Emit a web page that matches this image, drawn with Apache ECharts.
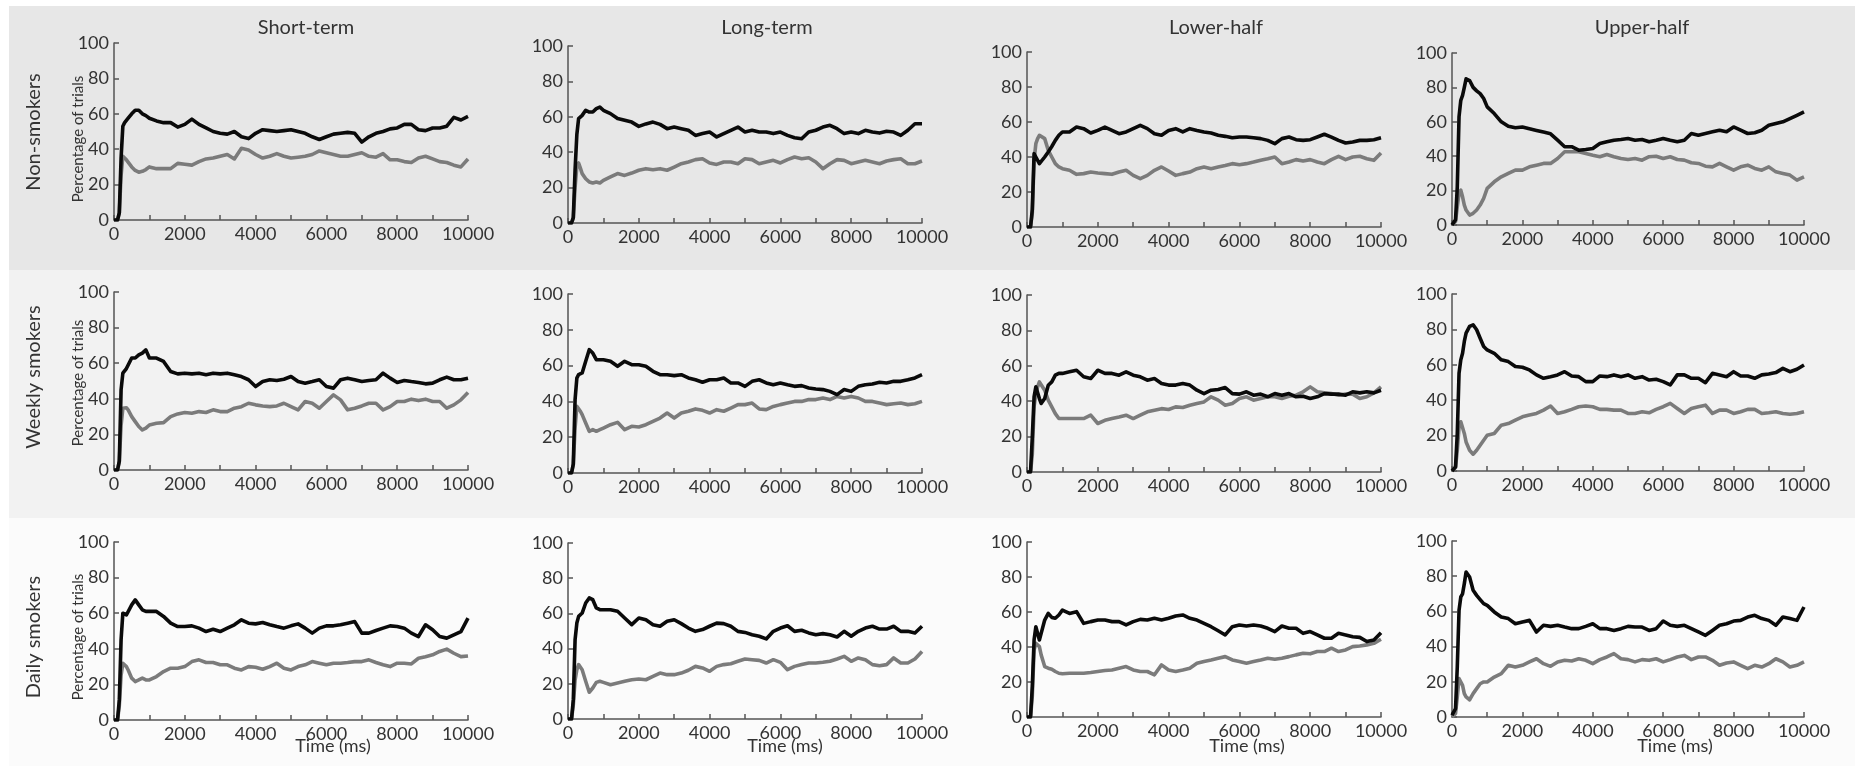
<!DOCTYPE html>
<html>
<head>
<meta charset="utf-8">
<script src="https://cdn.jsdelivr.net/npm/echarts@6/dist/echarts.min.js"></script>
<style>
  html, body { margin: 0; padding: 0; background: #fff; }
  #chart { width: 1863px; height: 766px; }
</style>
</head>
<body>
<div id="chart"></div>
<script>
// Time course of the percentage of trials, 3 smoker groups x 4 conditions.
// Dark line and grey line per panel.

const TIME_MS = [0, 100, 150, 200, 250, 300, 350, 400, 500, 600, 700, 800, 900, 1000,
  1200, 1400, 1600, 1800, 2000, 2200, 2400, 2600, 2800, 3000,
  3200, 3400, 3600, 3800, 4000, 4200, 4400, 4600, 4800, 5000,
  5200, 5400, 5600, 5800, 6000, 6200, 6400, 6600, 6800, 7000,
  7200, 7400, 7600, 7800, 8000, 8200, 8400, 8600, 8800, 9000,
  9200, 9400, 9600, 9800, 10000];

const COLUMNS = ['Short-term', 'Long-term', 'Lower-half', 'Upper-half'];
const ROWS = ['Non-smokers', 'Weekly smokers', 'Daily smokers'];
const X_TICKS = [0, 2000, 4000, 6000, 8000, 10000];

// ---- Non-smokers ----
const nonShortDark = [0, 0, 4, 35, 53, 55, 56, 57.5, 60, 62, 62, 60, 59, 57.5,
  56, 55, 55, 52.5, 54, 57, 54, 52, 50, 49,
  48.5, 50, 47, 46, 49, 51, 50.5, 50, 50.5, 51,
  50, 49, 47, 45.5, 47, 48.5, 49, 49.5, 49, 44,
  47, 49, 50, 51.5, 52, 54, 54, 51, 50.5, 52,
  52, 53, 58, 56.5, 58.5];
const nonShortGrey = [0, 0, 4, 25, 36, 35, 34, 33, 30, 28, 27, 27.5, 28.5, 30,
  29, 29, 29, 32, 31.5, 31, 33, 34.5, 35, 36,
  37, 34.5, 40.5, 39.5, 37, 35, 36, 37.5, 36, 35,
  35.5, 36, 37, 39, 38, 37, 36, 36, 37, 38,
  36, 35.5, 37.5, 34, 34, 33, 32.5, 35, 36, 34.5,
  33, 32.5, 31, 30, 34.5];

const nonLongDark = [0, 0, 3, 30, 50, 59, 60, 60.8, 63.7, 62.7, 62.7, 64.6, 65.5, 63.7,
  61.8, 59, 58, 57, 54.6, 56, 57, 55.7, 53.3, 54.2,
  53.3, 52.4, 49.5, 50.5, 51.4, 48.6, 50.5, 52.4, 54.2, 51.4,
  52.4, 51.4, 51.4, 50.5, 51.4, 49.5, 48.2, 47.6, 51.4, 52.4,
  54.2, 55.2, 53.3, 50.5, 51.4, 50.5, 52.4, 51.4, 50.8, 51.8,
  51.4, 49.5, 52.4, 56.1, 56.1];
const nonLongGrey = [0, 0, 3, 20, 32, 33.9, 31, 27.9, 25, 23.2, 22.6, 23.2, 22.6, 24.1,
  26, 27.9, 26.9, 28.2, 29.8, 30.7, 30.1, 30.7, 29.8, 31.6,
  33.5, 34.5, 35.8, 36.3, 33.9, 33.1, 34.5, 34.5, 33.5, 36.3,
  35.8, 33.5, 34.5, 35.4, 33.9, 35.8, 37.3, 36.3, 36.9, 34.5,
  30.7, 33.5, 35.8, 35.4, 33.5, 34.5, 35.4, 34.5, 33.5, 35,
  35.8, 36.3, 33.5, 33.5, 35];

const nonLowerDark = [0, 0, 10, 41.9, 40, 39, 36.2, 37, 40, 42.9, 46, 49.5, 52.4, 54.3,
  54.3, 57.1, 56.2, 53.7, 55.2, 57.1, 55.2, 53.3, 54.3, 56.2,
  58.1, 56.2, 53.3, 52.4, 55.2, 56.2, 54.3, 56.2, 55.2, 54.3,
  53.7, 52.4, 51.8, 51, 51.4, 51.4, 51, 50.5, 49.5, 47.6,
  50.5, 51.4, 49.9, 49.5, 49.9, 51.4, 53, 51.4, 49.5, 48,
  48.6, 49.5, 49.5, 49.9, 51];
const nonLowerGrey = [0, 0, 8, 38, 47.6, 50.5, 52.4, 53.3, 50.5, 43.8, 40, 36.2, 34.3, 33.3,
  32.4, 30.1, 30.5, 31.4, 30.9, 30.5, 30.1, 31.4, 32.4, 29.5,
  27.6, 29.5, 32.4, 34.3, 32, 29.5, 30.5, 31.4, 33.3, 34.3,
  33.3, 34.3, 35.2, 36.2, 35.6, 36.2, 37.1, 38.1, 39, 40,
  36.2, 37.1, 38.5, 37.7, 38.5, 37.1, 36.2, 38.5, 40.4, 38.5,
  40, 40.4, 39, 38.1, 42.3];

const nonUpperDark = [0, 3, 22, 63, 72.5, 75.4, 80, 85, 84, 80, 78, 76.4, 73.5, 68.7,
  64.8, 60, 57.4, 56.5, 57, 56, 55, 54, 53, 49.3,
  45.5, 45.5, 43.5, 43.9, 44.5, 47.4, 48.4, 49.3, 49.7, 50.3,
  49.3, 49.7, 48.4, 49.3, 50.3, 49.3, 48.4, 49.3, 53.2, 52.2,
  53.2, 54.2, 55.1, 54.2, 57, 55.1, 53.2, 53.6, 55.1, 58,
  59, 60, 61.9, 63.8, 65.8];
const nonUpperGrey = [0, 2, 10.6, 18.4, 20.3, 16.4, 11.6, 8.7, 5.8, 6.8, 8.7, 11.6, 15.5, 21.3,
  25.1, 28, 30, 31.9, 31.9, 33.8, 34.8, 35.8, 35.8, 38.7,
  42.6, 42.6, 42.6, 41.6, 40.6, 39.7, 41, 39.7, 38.7, 38.1,
  38.7, 37.7, 39.7, 40, 38.7, 39.7, 38.1, 37.7, 36.2, 35.8,
  34.2, 33.8, 35.8, 33.8, 31.9, 33.8, 34.8, 32.9, 31.9, 33.8,
  30.9, 30, 29, 26.1, 28];

// ---- Weekly smokers ----
const weeklyShortDark = [0, 0, 5, 45, 54.4, 55.3, 57, 59, 62.9, 62.9, 64.7, 65.7, 67.5, 62.9,
  62.9, 61, 55.3, 54, 54.4, 54, 54.4, 53.5, 54.4, 54,
  54.4, 53.5, 52.5, 50.7, 46.9, 49.7, 50.7, 50.3, 51, 52.5,
  49.7, 48.8, 49.7, 50.7, 46.9, 46, 50.7, 51.6, 50.7, 49.7,
  50.3, 50.7, 54.4, 51.6, 49.2, 50.3, 49.7, 49.2, 48.4, 48.8,
  50.7, 52.2, 50.7, 50.7, 51.6];
const weeklyShortGrey = [0, 0, 5, 25, 34.7, 35.6, 35, 33.8, 30, 27.2, 24.4, 22.5, 23.5, 25.3,
  26.3, 26.6, 30, 31.5, 32.3, 31.9, 32.8, 32.3, 33.8, 32.8,
  32.8, 34.7, 35.6, 37.5, 36.6, 36, 35.6, 36, 37.5, 35.6,
  33.8, 38.5, 37.5, 34.7, 38.5, 42.2, 39.4, 33.8, 34.7, 36,
  37.5, 37.5, 33.8, 35.6, 38.5, 38.5, 39.8, 39, 39.8, 38.5,
  38.5, 34.7, 36.6, 39.4, 43.5];

const weeklyLongDark = [0, 0, 5, 41, 53, 55, 55.5, 55.9, 62.4, 68.9, 67, 63.3, 63.3, 63.3,
  62.4, 59.6, 62.4, 60.5, 60.5, 59.6, 56.8, 54.9, 54.9, 54.4,
  54.9, 53.1, 52.1, 50.7, 52.1, 52.1, 53.1, 50.3, 50.3, 48.4,
  51.2, 52.1, 50.3, 49.3, 50.3, 49.3, 48.4, 48.8, 47.5, 46.9,
  46.6, 45.6, 43.8, 46.6, 45.6, 48.4, 49.3, 49.7, 50.7, 50.3,
  51.2, 51.2, 52.1, 53.1, 54.9];
const weeklyLongGrey = [0, 0, 5, 25, 37.2, 36.3, 34.5, 32.6, 27.9, 23.3, 24.2, 23.3, 24.2, 25.1,
  27, 28.3, 24.2, 26.1, 25.7, 27, 28.9, 30.7, 33.5, 30.7,
  33.5, 34.5, 35.8, 35, 33.5, 35.4, 34.5, 36.3, 38.2, 38.2,
  39.1, 35.8, 35.4, 37.2, 38.2, 39.1, 40, 40, 41, 41,
  41.9, 41, 42.8, 41.9, 42.8, 41.9, 40, 40, 39.1, 38.2,
  38.7, 39.1, 38.2, 38.7, 40];

const weeklyLowerDark = [0, 0, 19.8, 42.5, 48.1, 47.2, 41.5, 38.7, 41.5, 49, 50.9, 54.7, 55.7, 55.7,
  56.6, 57.5, 53.8, 52.8, 57.5, 55.7, 55.7, 54.7, 56.6, 54.7,
  53.8, 51.9, 52.8, 50, 49.1, 49.1, 50, 49.1, 46.2, 44.3,
  46.2, 46.6, 47.7, 44.3, 44, 45.3, 43.4, 44, 42.5, 44.3,
  43.4, 44.3, 42.5, 42.8, 41.5, 42.5, 44.3, 44, 44, 43.4,
  45.3, 44.7, 45.3, 44.7, 46.2];
const weeklyLowerGrey = [0, 0, 10, 36.8, 44.3, 48.1, 50.9, 51.9, 46.2, 40.6, 36.8, 33, 30.2, 30.2,
  30.2, 30.2, 30.2, 32.1, 27.4, 29.2, 30.2, 31.1, 32.1, 30.2,
  32.1, 34, 34.9, 35.8, 35.3, 36.8, 36.4, 37.7, 38.7, 39.6,
  42.5, 40.6, 37.7, 38.7, 41.5, 42.5, 40.6, 41.5, 42.5, 42.5,
  41.5, 42.8, 43.4, 45.3, 48.1, 45.3, 44.7, 44.3, 43.4, 44,
  44, 41.5, 42.5, 44.7, 48.1];

const weeklyUpperDark = [0, 2.3, 21.2, 55.2, 62.8, 66.5, 73.2, 77.9, 81.7, 82.6, 79.8, 75, 70.3, 68.4,
  66.5, 62.8, 61.8, 59, 58.6, 57.1, 54.3, 52.4, 53.3, 54.3,
  56.1, 53.7, 53.3, 50.5, 50.5, 53.7, 53.3, 54.3, 53.3, 54.3,
  52.4, 53.3, 51.4, 51.8, 50.5, 48.6, 54.3, 54.3, 52.4, 52.4,
  49.9, 55.2, 54.3, 53.3, 56.1, 53.7, 53.7, 52.4, 54.3, 54.8,
  55.6, 58, 56.1, 57.5, 59.9];
const weeklyUpperGrey = [0, 2, 11.7, 25, 27.8, 26.8, 21.2, 16.4, 11.7, 9.5, 11.7, 14.6, 17.4, 20.2,
  21.2, 25.9, 26.8, 28.7, 30.6, 31.6, 32.5, 34.4, 36.7, 32.5,
  33.5, 34.8, 36.3, 36.7, 36.3, 34.8, 34.8, 34.4, 34.4, 32.5,
  32.5, 33.5, 32.9, 34.8, 36.3, 38.2, 35.3, 32.5, 35.3, 36.3,
  37.2, 32.5, 34.4, 34.4, 32.5, 33.5, 34.8, 34.8, 32.5, 32.9,
  33.5, 32.5, 32.1, 32.5, 33.5];

// ---- Daily smokers ----
const dailyShortDark = [0, 0, 11.3, 45, 60, 59.1, 59, 60, 64.7, 67.5, 64.7, 61.9, 61, 61,
  61, 58.2, 54.4, 52.5, 52.5, 52.9, 51.6, 49.7, 51, 49.7,
  51.6, 53.5, 56.3, 54.4, 54, 54.8, 53.5, 52.5, 51.6, 52.9,
  54, 51.6, 48.8, 51.6, 52.9, 52.9, 53.5, 54.4, 55.3, 48.8,
  48.8, 50.3, 51.6, 52.9, 52.5, 51.6, 48.8, 46.9, 53.5, 50.7,
  46.9, 46, 47.8, 49.7, 57.2];
const dailyShortGrey = [0, 0, 8, 25, 31.9, 31, 30, 28.1, 23.5, 21.6, 22.5, 23.5, 22.5, 22.5,
  24.4, 27.2, 29.1, 29.1, 30, 32.8, 33.8, 32.3, 32.3, 31,
  31, 29.1, 28.1, 30, 29.6, 28.5, 30, 31.9, 29.1, 28.1,
  30, 31, 32.8, 31.9, 31, 31.9, 31.9, 32.3, 32.8, 32.8,
  33.8, 32.3, 31, 30, 31.9, 31.9, 31.5, 34.7, 35.6, 36.6,
  38.5, 39.8, 37.5, 35.6, 36];

const dailyLongDark = [0, 0, 11, 45, 54.5, 58.3, 59, 60.2, 65.9, 68.8, 67.8, 63.1, 62.1, 62.1,
  62.1, 61.2, 57.4, 53.6, 57.4, 56.4, 53.6, 52.7, 55.5, 56.4,
  54.2, 51.7, 49.8, 50.8, 52.7, 54.5, 54.2, 52.7, 49.8, 49.2,
  47.9, 47, 45.5, 49.8, 51.7, 53, 49.8, 50.4, 48.9, 47.9,
  48.5, 47.9, 46.6, 49.8, 47, 49.8, 51.7, 52.7, 51.1, 51.1,
  52.7, 49.8, 49.8, 48.9, 52.7];
const dailyLongGrey = [0, 0, 8, 22, 28, 30.9, 30, 28, 21.4, 15.2, 17.6, 20.8, 21.4, 20.8,
  19.5, 20.5, 21.4, 22.3, 22.7, 22.3, 24.2, 26.1, 25.2, 25.2,
  26.1, 27.7, 29.9, 29, 27.1, 29.9, 30.9, 31.4, 32.8, 34.1,
  33.7, 33.3, 31.8, 33.7, 32.2, 28, 29.9, 30.9, 31.8, 31.8,
  32.2, 32.8, 34.1, 35.6, 32.8, 34.7, 33.7, 30.9, 30.3, 30.9,
  34.7, 31.8, 31.8, 34.1, 38.4];

const dailyLowerDark = [0, 0, 17.5, 44, 51.6, 50.7, 44, 47.8, 55.4, 59.2, 56.9, 56.4, 58.3, 61.1,
  59.2, 60.2, 53.5, 54.5, 55.4, 55.4, 54.5, 54.5, 52.6, 54.5,
  55.8, 55.4, 56.4, 55.4, 56.4, 57.7, 58.3, 56.4, 55.4, 53.5,
  51.6, 49.3, 46.9, 51.6, 52.6, 52, 52.6, 52, 50.7, 48.8,
  52, 50.7, 50.7, 47.8, 48.8, 46.9, 45, 45, 47.8, 46.9,
  45.9, 45.5, 43.1, 44, 48.2];
const dailyLowerGrey = [0, 0, 12, 38.3, 42.1, 42.1, 40.2, 35.5, 28.8, 27.9, 27.3, 26, 25, 24.7,
  25, 25, 25, 25.4, 26, 26.6, 26.9, 27.9, 28.8, 26.9,
  26, 26, 24.1, 29.8, 26.9, 26, 26.9, 27.9, 30.7, 31.7,
  32.6, 33.6, 34.5, 32.6, 31.7, 30.7, 31.7, 32.6, 33.6, 33,
  33.6, 34.5, 35.5, 36.4, 36.1, 37.4, 37.4, 39.3, 37.4, 38.3,
  40.2, 40.6, 41.2, 42.1, 44.4];

const dailyUpperDark = [1, 4.7, 28.4, 60.6, 68.2, 70, 75.8, 82.4, 79.5, 72, 69.1, 66.7, 64.4, 63.4,
  59.7, 56.8, 55.9, 53, 54, 54.9, 48.3, 52.1, 51.5, 52.1,
  51.1, 50.2, 50.2, 51.5, 53, 50.2, 50.2, 49.2, 50.2, 51.5,
  51.1, 51.1, 49.2, 50.2, 54.5, 52.1, 51.5, 52.1, 50.2, 48.3,
  46.4, 49.2, 52.1, 53, 54.5, 54.9, 56.8, 57.8, 55.9, 54.9,
  52.1, 56.8, 55.9, 54.9, 62.5];
const dailyUpperGrey = [0, 2, 11.4, 21.8, 22.7, 18, 13.3, 11.4, 9.8, 13.3, 16.1, 18.9, 19.9, 19.9,
  22.7, 24.6, 29.4, 28.4, 29.4, 31.3, 33.1, 30.3, 28.8, 31.3,
  32.2, 31.8, 33.1, 32.2, 30.3, 32.6, 34.1, 36, 33.1, 32.6,
  31.3, 32.6, 32.2, 33.1, 31.3, 32.6, 34.1, 35, 32.6, 34.1,
  34.1, 32.2, 29.4, 30.7, 31.3, 29.4, 27.5, 29.4, 28.4, 30.3,
  33.1, 31.3, 28.4, 29.4, 31.3];

// row-major: [dark, grey] for each panel
const PANELS = [
  [[nonShortDark, nonShortGrey], [nonLongDark, nonLongGrey], [nonLowerDark, nonLowerGrey], [nonUpperDark, nonUpperGrey]],
  [[weeklyShortDark, weeklyShortGrey], [weeklyLongDark, weeklyLongGrey], [weeklyLowerDark, weeklyLowerGrey], [weeklyUpperDark, weeklyUpperGrey]],
  [[dailyShortDark, dailyShortGrey], [dailyLongDark, dailyLongGrey], [dailyLowerDark, dailyLowerGrey], [dailyUpperDark, dailyUpperGrey]],
];

// plot-area pixel boxes (each panel is slightly offset in the figure)
const COL_LEFT = [114, 568, 1027, 1452];
const COL_RIGHT = [468, 922, 1381, 1804];
const ROW_TOP = [[43, 46, 52, 53], [292, 294, 295, 294], [542, 543, 542, 541]];
const ROW_BOTTOM = [[220, 223, 227, 225], [470, 473, 472, 471], [720, 719, 717, 717]];

const FONT = 'Lato, "Open Sans", sans-serif';
const TEXT = '#333';
const AXIS = '#555';
const DARK = '#0a0a0a';
const GREY = '#7b7b7b';

const chart = echarts.init(document.getElementById('chart'), null, { renderer: 'canvas' });

const grids = [], xAxes = [], yAxes = [], series = [];
PANELS.forEach((row, r) => {
  row.forEach((pair, c) => {
    const idx = grids.length;
    const top = ROW_TOP[r][c], bottom = ROW_BOTTOM[r][c];
    grids.push({
      left: COL_LEFT[c],
      top: top,
      width: COL_RIGHT[c] - COL_LEFT[c],
      height: bottom - top,
      containLabel: false,
    });
    xAxes.push({
      type: 'value',
      gridIndex: idx,
      min: 0,
      max: 10000,
      interval: 1000,
      axisLine: { show: true, onZero: false, lineStyle: { color: AXIS, width: 1.5 } },
      axisTick: { show: true, inside: true, length: 5, lineStyle: { color: AXIS, width: 1.5 } },
      axisLabel: {
        color: TEXT, fontFamily: FONT, fontSize: 18, margin: 5,
        formatter: (v) => (X_TICKS.indexOf(v) >= 0 ? String(v) : ''),
      },
      splitLine: { show: false },
    });
    yAxes.push({
      type: 'value',
      gridIndex: idx,
      min: 0,
      max: 100,
      interval: 20,
      axisLine: { show: true, lineStyle: { color: AXIS, width: 1.5 } },
      axisTick: { show: true, inside: true, length: 5, lineStyle: { color: AXIS, width: 1.5 } },
      axisLabel: { color: TEXT, fontFamily: FONT, fontSize: 18, margin: 5 },
      splitLine: { show: false },
    });
    // grey first so the dark curve sits on top
    [[pair[1], GREY, 'grey'], [pair[0], DARK, 'dark']].forEach(([vals, color, name]) => {
      series.push({
        name: ROWS[r] + ' ' + COLUMNS[c] + ' ' + name,
        type: 'line',
        xAxisIndex: idx,
        yAxisIndex: idx,
        showSymbol: false,
        symbol: 'none',
        data: TIME_MS.map((t, i) => [t, vals[i]]),
        lineStyle: { width: 3.6, color: color, join: 'round' },
        itemStyle: { color: color },
      });
    });
  });
});

// background bands behind each group row
const bands = [
  { y: 6, h: 264, fill: '#e7e7e7' },
  { y: 270, h: 248, fill: '#f2f2f2' },
  { y: 518, h: 248, fill: '#fbfbfb' },
].map((b) => ({
  type: 'rect', silent: true, z: -10,
  shape: { x: 9, y: b.y, width: 1846, height: b.h },
  style: { fill: b.fill },
}));

const COL_TITLE_X = [306, 767, 1216, 1642];
const colTitles = COLUMNS.map((t, c) => ({
  type: 'text', silent: true,
  x: COL_TITLE_X[c], y: 28,
  style: { text: t, fill: TEXT, font: '20px ' + FONT, textAlign: 'center', textVerticalAlign: 'middle' },
}));

const ROW_LABEL_Y = [132, 377, 637];
const rowLabels = ROWS.map((t, r) => ({
  type: 'text', silent: true,
  x: 34, y: ROW_LABEL_Y[r], rotation: Math.PI / 2,
  style: { text: t, fill: TEXT, font: '20px ' + FONT, textAlign: 'center', textVerticalAlign: 'middle' },
}));

const Y_NAME_Y = [139, 383, 637];
const yNames = Y_NAME_Y.map((y) => ({
  type: 'text', silent: true,
  x: 78, y: y, rotation: Math.PI / 2,
  style: { text: 'Percentage of trials', fill: TEXT, font: '15px ' + FONT, textAlign: 'center', textVerticalAlign: 'middle' },
}));

const X_NAME_X = [333, 785, 1247, 1675];
const xNames = X_NAME_X.map((x) => ({
  type: 'text', silent: true,
  x: x, y: 746,
  style: { text: 'Time (ms)', fill: TEXT, font: '18px ' + FONT, textAlign: 'center', textVerticalAlign: 'middle' },
}));

chart.setOption({
  backgroundColor: '#ffffff',
  animation: false,
  grid: grids,
  xAxis: xAxes,
  yAxis: yAxes,
  series: series,
  graphic: { elements: [...bands, ...colTitles, ...rowLabels, ...yNames, ...xNames] },
});
</script>
</body>
</html>
